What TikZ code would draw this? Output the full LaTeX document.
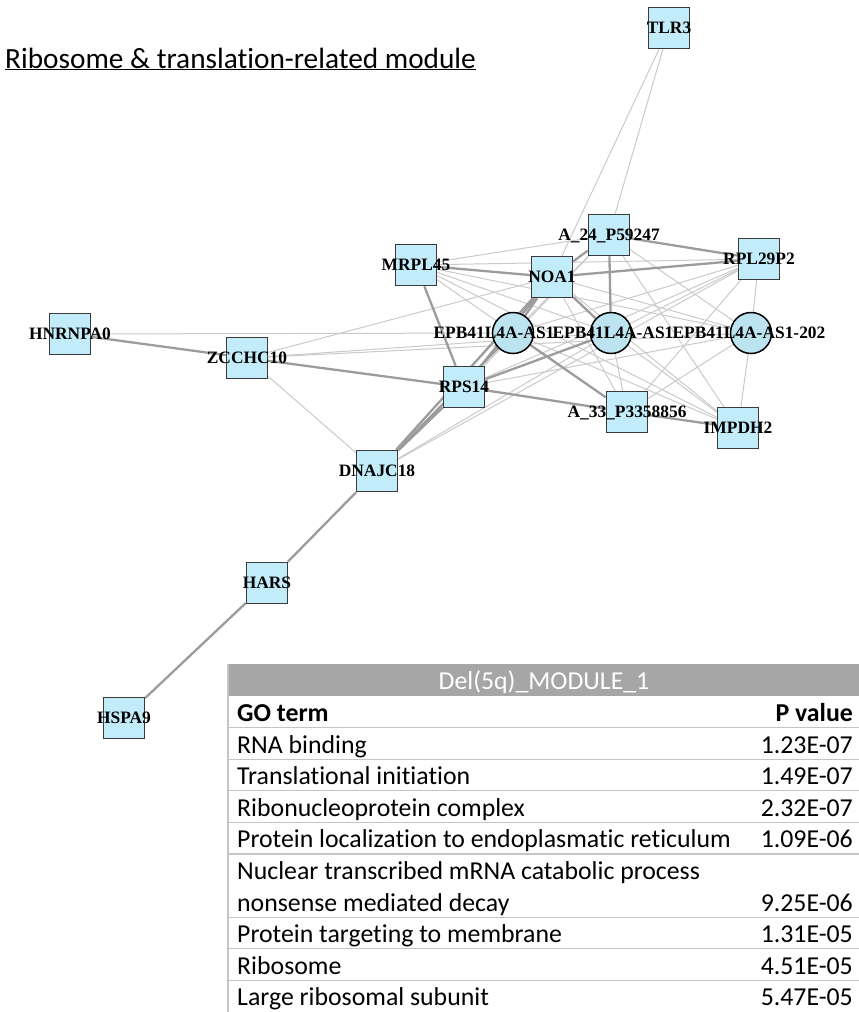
\documentclass[tikz,border=0pt]{standalone}
\usepackage{fontspec}
\newfontfamily\lblfont{Liberation Serif}
\newfontfamily\calfont{Carlito}[Ligatures=NoCommon]
\usetikzlibrary{backgrounds}
\definecolor{boxfill}{HTML}{C2ECFA}
\definecolor{circfill}{HTML}{BCE4F0}
\definecolor{boxdraw}{HTML}{3A3A3A}
\definecolor{weakc}{HTML}{CACACA}
\definecolor{strongc}{HTML}{9C9C9C}
\definecolor{headc}{HTML}{A6A6A6}
\definecolor{rulec}{HTML}{C4C4C4}
\begin{document}
\begin{tikzpicture}[x=1pt,y=-1pt,
  gbox/.style={draw=boxdraw, fill=boxfill, line width=1.5pt, minimum size=41pt, inner sep=0pt, rectangle},
  gcirc/.style={draw=black, fill=circfill, line width=1.5pt, circle, minimum size=41pt, inner sep=0pt},
  lbl/.style={font=\lblfont\bfseries\fontsize{17.4}{17.4}\selectfont, inner sep=0pt, anchor=base, yshift=-5.8pt},
  weak/.style={draw=weakc, line width=1pt},
  strong/.style={draw=strongc, line width=2.3pt},
  cell/.style={font=\calfont\fontsize{25.8}{25.8}\selectfont, inner sep=0pt},
  rowrule/.style={draw=rulec, line width=1.2pt}]
\useasboundingbox (0,0) rectangle (859,1012);

% title
\node[font=\calfont\fontsize{29.3}{29.3}\selectfont, inner sep=0pt, anchor=base west] (title) at (5,68) {\underline{Ribosome \& translation-related module}};

% nodes
\node[gbox] (tlr) at (669,28) {};
\node[gbox] (a24) at (609,235) {};
\node[gbox] (mrp) at (416,265) {};
\node[gbox] (noa) at (552,277) {};
\node[gbox] (rpl) at (759,259) {};
\node[gbox] (hnr) at (70,334) {};
\node[gbox] (zcc) at (247,358) {};
\node[gcirc] (e1) at (513,333) {};
\node[gcirc] (e2) at (611,333) {};
\node[gcirc] (e3) at (751,333) {};
\node[gbox] (rps) at (464,387) {};
\node[gbox] (a33) at (627,412) {};
\node[gbox] (imp) at (738,428) {};
\node[gbox] (dna) at (377,471) {};
\node[gbox] (har) at (267,583) {};
\node[gbox] (hsp) at (124,718) {};

% edges
\begin{scope}[on background layer]
\foreach \a/\b in {tlr/a24, tlr/noa, hnr/e1, zcc/noa, zcc/e2, zcc/e3, zcc/dna, dna/e2,
  mrp/a24, mrp/e2, mrp/a33, mrp/e3, mrp/imp, noa/a33, noa/imp, noa/e3,
  a24/e1, a24/imp, a24/e3, rpl/e3, e3/imp, rpl/e1, rpl/e2, rpl/a33, rpl/rps,
  e2/imp, e2/a33, e1/imp, e3/a33, e3/rps, rps/a24, dna/rpl, mrp/rpl}
  \draw[weak] (\a) -- (\b);
\foreach \a/\b in {hnr/zcc, zcc/rps, dna/har, har/hsp, dna/rps, dna/noa, rps/noa,
  mrp/noa, mrp/rps, noa/a24, noa/rpl, a24/rpl, a24/e2, rps/a33, a33/imp, e1/a33,
  rps/e2, e1/noa, noa/e2, dna/e1}
  \draw[strong] (\a) -- (\b);
\end{scope}

% labels
\node[lbl] (ltlr) at (tlr) {TLR3};
\node[lbl] (la24) at (a24) {A\_24\_P59247};
\node[lbl] (lmrp) at (mrp) {MRPL45};
\node[lbl] (lnoa) at (noa) {NOA1};
\node[lbl] (lrpl) at (rpl) {RPL29P2};
\node[lbl] (lhnr) at (hnr) {HNRNPA0};
\node[lbl] (lzcc) at (zcc) {ZCCHC10};
\node[lbl] (le1) at (494,333) {EPB41L4A-AS1};
\node[lbl] (le2) at (613,333) {EPB41L4A-AS1};
\node[lbl] (le3) at (749,333) {EPB41L4A-AS1-202};
\node[lbl] (lrps) at (rps) {RPS14};
\node[lbl] (la33) at (a33) {A\_33\_P3358856};
\node[lbl] (limp) at (imp) {IMPDH2};
\node[lbl] (ldna) at (dna) {DNAJC18};
\node[lbl] (lhar) at (har) {HARS};
\node[lbl] (lhsp) at (hsp) {HSPA9};

% table
\node[fill=headc, minimum width=631pt, minimum height=32pt, inner sep=0pt, anchor=north west] (hdr) at (228,664) {};
\node[cell, text=white, anchor=base] (hdrtxt) at (544,689) {Del(5q)\_MODULE\_1};
\draw[rowrule] (228,664) -- (228,1012);
\foreach \yy in {727.6, 759.2, 790.8, 822.4, 854, 917.2, 948.8, 980.4}
  \draw[rowrule] (228,\yy) -- (859,\yy);

\node[cell, anchor=base west] (t0) at (237,721.5) {\bfseries GO term};
\node[cell, anchor=base east] (p0) at (853,721.5) {\bfseries P value};
\node[cell, anchor=base west] (t1) at (237,753) {RNA binding};
\node[cell, anchor=base east] (p1) at (853,753) {1.23E-07};
\node[cell, anchor=base west] (t2) at (237,784.6) {Translational initiation};
\node[cell, anchor=base east] (p2) at (853,784.6) {1.49E-07};
\node[cell, anchor=base west] (t3) at (237,816.2) {Ribonucleoprotein complex};
\node[cell, anchor=base east] (p3) at (853,816.2) {2.32E-07};
\node[cell, anchor=base west] (t4) at (237,847.8) {Protein localization to endoplasmatic reticulum};
\node[cell, anchor=base east] (p4) at (853,847.8) {1.09E-06};
\node[cell, anchor=base west] (t5) at (237,879.4) {Nuclear transcribed mRNA catabolic process};
\node[cell, anchor=base west] (t5b) at (237,911) {nonsense mediated decay};
\node[cell, anchor=base east] (p5) at (853,911) {9.25E-06};
\node[cell, anchor=base west] (t6) at (237,942.6) {Protein targeting to membrane};
\node[cell, anchor=base east] (p6) at (853,942.6) {1.31E-05};
\node[cell, anchor=base west] (t7) at (237,974.2) {Ribosome};
\node[cell, anchor=base east] (p7) at (853,974.2) {4.51E-05};
\node[cell, anchor=base west] (t8) at (237,1005.8) {Large ribosomal subunit};
\node[cell, anchor=base east] (p8) at (853,1005.8) {5.47E-05};
\end{tikzpicture}
\end{document}
